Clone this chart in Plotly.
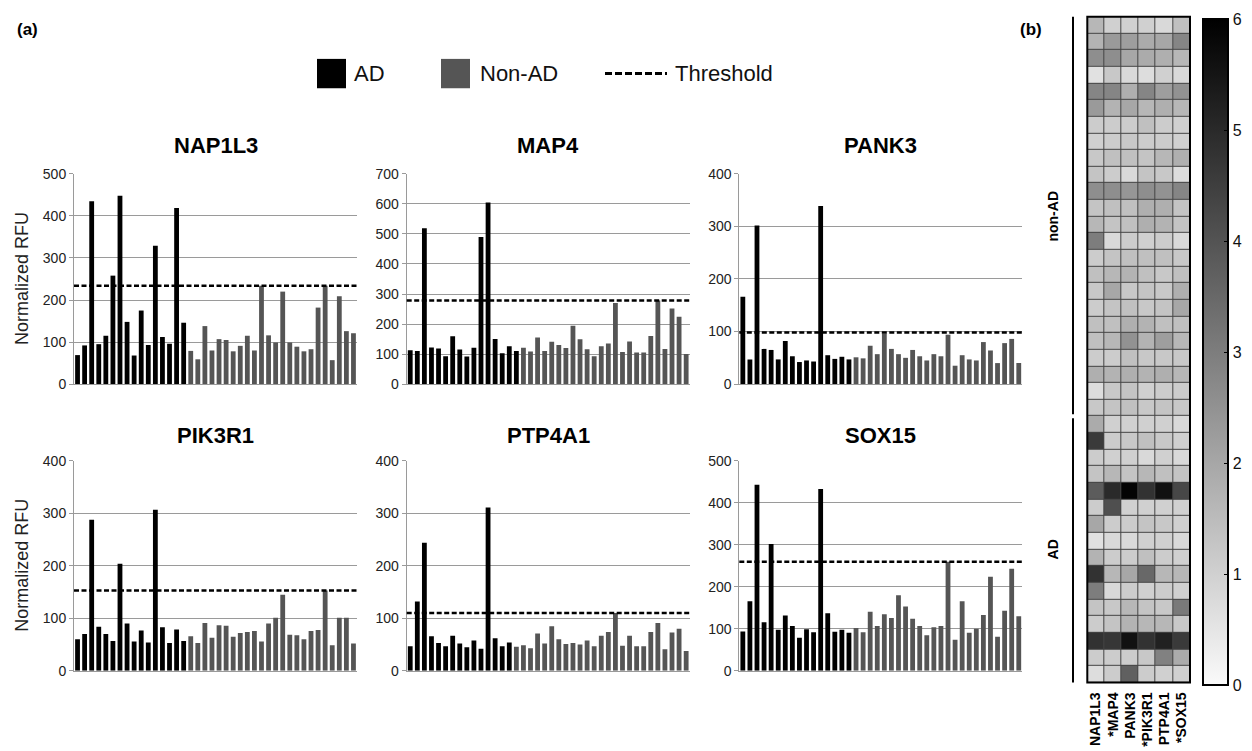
import plotly.graph_objects as go

W, H = 1252, 751
FONT = "Liberation Sans, Arial, Helvetica, sans-serif"

# ---------------- data ----------------
genes = ["NAP1L3", "MAP4", "PANK3", "PIK3R1", "PTP4A1", "SOX15"]

nap1l3 = [69, 92, 435, 95, 115, 258, 448, 148, 68, 175, 93, 329, 112, 96, 419, 146,
          79, 59, 138, 80, 107, 105, 78, 91, 115, 80, 234, 116, 99, 220, 99, 89, 78, 83,
          182, 234, 57, 209, 126, 121]
map4 = [113, 110, 519, 122, 119, 93, 159, 115, 92, 121, 490, 605, 150, 103, 126, 110,
        121, 109, 155, 110, 141, 130, 120, 194, 149, 116, 93, 126, 135, 270, 107, 142,
        105, 105, 160, 278, 117, 252, 224, 100]
pank3 = [166, 47, 302, 67, 65, 47, 82, 53, 42, 45, 43, 339, 55, 48, 52, 47,
         51, 49, 73, 57, 96, 67, 57, 50, 65, 53, 45, 57, 53, 94, 35, 55, 47, 45, 80, 64,
         40, 78, 86, 40]
pik3r1 = [60, 70, 288, 84, 70, 57, 204, 90, 56, 77, 54, 307, 83, 53, 79, 57,
          66, 53, 91, 63, 87, 86, 65, 72, 74, 76, 56, 90, 101, 145, 69, 68, 60, 76, 78,
          153, 49, 101, 101, 52]
ptp4a1 = [47, 132, 244, 66, 53, 47, 67, 52, 45, 58, 42, 311, 62, 47, 54,
          46, 49, 43, 71, 52, 85, 60, 51, 53, 50, 58, 47, 67, 74, 110, 48, 67, 47, 47, 74,
          91, 41, 73, 80, 38]
sox15 = [94, 166, 443, 116, 302, 98, 132, 107, 79, 99, 92, 433, 137, 93, 98, 91,
         102, 92, 141, 107, 135, 126, 180, 153, 124, 107, 85, 104, 107, 260, 74, 166, 91,
         100, 133, 224, 81, 143, 243, 130]
series = [nap1l3, map4, pank3, pik3r1, ptp4a1, sox15]
ad_counts = [16, 16, 16, 16, 15, 16]
thresholds = [234, 278, 98, 153, 110, 260]
y_max = [500, 700, 400, 400, 400, 500]

heat_genes = ["NAP1L3", "*MAP4", "PANK3", "*PIK3R1", "PTP4A1", "*SOX15"]
heat_nonad = [
    [1.6, 1.0, 1.0, 1.0, 0.8, 1.4],
    [1.7, 2.3, 2.2, 1.9, 2.0, 2.8],
    [2.6, 2.6, 2.0, 1.9, 1.8, 1.6],
    [0.6, 1.2, 0.8, 0.7, 1.0, 0.8],
    [2.8, 2.8, 1.8, 2.8, 2.2, 2.5],
    [2.3, 1.7, 2.0, 1.6, 1.8, 1.6],
    [1.1, 1.1, 1.1, 1.4, 1.1, 1.0],
    [1.0, 1.1, 1.2, 1.1, 1.1, 1.0],
    [1.2, 1.4, 1.4, 1.3, 1.6, 1.8],
    [1.3, 1.1, 0.8, 1.3, 1.2, 0.7],
    [2.6, 2.6, 2.4, 2.6, 2.5, 2.8],
    [1.3, 1.4, 1.4, 1.8, 1.8, 1.3],
    [1.6, 1.3, 1.4, 1.8, 1.7, 1.3],
    [3.0, 0.8, 1.1, 1.0, 1.1, 0.8],
    [1.1, 1.3, 1.4, 1.4, 1.4, 1.2],
    [1.4, 1.6, 1.7, 1.4, 1.2, 1.4],
    [1.2, 2.0, 1.2, 1.3, 1.2, 1.8],
    [1.1, 1.3, 1.4, 1.2, 1.3, 2.0],
    [1.4, 1.4, 1.8, 1.7, 1.4, 1.4],
    [1.4, 1.6, 2.5, 1.7, 2.2, 1.6],
    [1.1, 1.1, 1.4, 1.2, 1.2, 1.2],
    [1.8, 1.7, 1.8, 1.7, 1.8, 1.6],
    [0.7, 1.2, 1.3, 1.0, 1.1, 1.1],
    [1.2, 1.3, 1.4, 1.2, 1.3, 1.2],
]
heat_ad = [
    [1.9, 1.0, 1.0, 1.0, 1.0, 0.8],
    [4.6, 1.1, 1.2, 1.4, 1.2, 1.0],
    [1.1, 1.0, 1.0, 0.8, 1.0, 0.8],
    [1.3, 1.6, 1.3, 1.6, 1.4, 1.3],
    [3.8, 5.0, 5.9, 4.8, 5.6, 4.3],
    [1.1, 4.1, 1.0, 1.0, 1.0, 1.0],
    [2.0, 1.1, 1.1, 1.3, 1.2, 1.0],
    [0.6, 0.8, 0.8, 1.0, 1.0, 0.8],
    [1.7, 1.1, 1.1, 1.4, 1.1, 1.0],
    [4.8, 1.6, 2.0, 3.5, 1.6, 1.6],
    [3.0, 0.8, 1.1, 1.0, 1.1, 1.0],
    [1.3, 1.2, 1.6, 1.3, 1.2, 3.1],
    [1.1, 1.3, 1.7, 1.6, 1.6, 1.2],
    [4.8, 4.7, 5.6, 4.8, 5.2, 4.6],
    [1.1, 1.1, 1.1, 1.2, 2.9, 1.9],
    [0.7, 1.1, 3.7, 1.1, 1.0, 1.0],
]
colorbar_ticks = [0, 1, 2, 3, 4, 5, 6]

# ---------------- helpers ----------------
def px(x):
    return x / W


def py(y):
    return 1 - y / H


AD_COLOR = "#000000"
NON_COLOR = "#555555"
GRID = "#9a9a9a"

cols_x = [(74, 357), (406.7, 689.7), (739.3, 1022.3)]
rows_y = [(169.5, 384.3), (462.7, 677.3)]
title_y = [141, 437]

fig = go.Figure()
layout = dict(
    width=W, height=H,
    margin=dict(l=0, r=0, t=0, b=0),
    paper_bgcolor="white", plot_bgcolor="white",
    font=dict(family=FONT, color="#111"),
    showlegend=False, barmode="overlay",
)
shapes = []
annotations = []


def note(text, x, y, size, xanchor="center", yanchor="middle", angle=0, color="#000"):
    annotations.append(dict(text=text, x=px(x), y=py(y), xref="paper", yref="paper",
                            xanchor=xanchor, yanchor=yanchor, showarrow=False,
                            textangle=angle, font=dict(size=size, family=FONT, color=color)))


for i, g in enumerate(genes):
    r, c = divmod(i, 3)
    k = "" if i == 0 else str(i + 1)
    xa, ya = "x" + k, "y" + k
    vals = series[i]
    n = ad_counts[i]
    idx = list(range(len(vals)))
    fig.add_trace(go.Bar(x=idx[:n], y=vals[:n], marker=dict(color=AD_COLOR, line=dict(width=0)),
                         width=0.68, xaxis=xa, yaxis=ya, name="AD"))
    fig.add_trace(go.Bar(x=idx[n:], y=vals[n:], marker=dict(color=NON_COLOR, line=dict(width=0)),
                         width=0.68, xaxis=xa, yaxis=ya, name="Non-AD"))
    x0, x1 = cols_x[c]
    yt, yb = rows_y[r]
    layout["xaxis" + k] = dict(domain=[px(x0), px(x1)], anchor=ya, range=[-0.5, len(vals) - 0.5],
                               showticklabels=False, showgrid=False, zeroline=False,
                               showline=True, linecolor=GRID, linewidth=1, ticks="")
    layout["yaxis" + k] = dict(domain=[py(yb), py(yt)], anchor=xa, range=[0, y_max[i]],
                               tick0=0, dtick=100, showgrid=True, gridcolor=GRID, gridwidth=1,
                               showline=True, linecolor=GRID, linewidth=1, zeroline=False,
                               ticks="outside", ticklen=4, tickcolor=GRID,
                               tickfont=dict(size=14, color="#222", family=FONT))
    shapes.append(dict(type="line", xref=xa + " domain", yref=ya, x0=0, x1=1,
                       y0=thresholds[i], y1=thresholds[i],
                       line=dict(color="black", width=2.5, dash="5px,2.5px"), layer="above"))
    note("<b>%s</b>" % g, (x0 + x1) / 2, title_y[r], 22)

for yc in [277, 570]:
    note("Normalized RFU", 22, yc, 18, angle=-90, color="#222")

# ---------------- heatmap ----------------
hx0, hx1 = 1087.3, 1190.0
hy0, hy1 = 9.0, 689.3
z = heat_nonad + heat_ad
fig.add_trace(go.Heatmap(
    z=z, x=list(range(len(heat_genes))), y=list(range(len(z))),
    colorscale=[[0, "rgb(250,250,250)"], [1, "rgb(0,0,0)"]], zmin=0, zmax=6,
    xgap=1, ygap=1, xaxis="x7", yaxis="y7",
    colorbar=dict(x=px(1203), xanchor="left", thickness=25, thicknessmode="pixels",
                  len=(692.7 - 11.7) / H, lenmode="fraction", y=py(11.7), yanchor="top",
                  xpad=0, ypad=0, outlinewidth=2, outlinecolor="black",
                  tickvals=colorbar_ticks, ticks="inside", ticklen=5, tickcolor="black",
                  tickfont=dict(size=16, family=FONT, color="#111")),
))
layout["xaxis7"] = dict(domain=[px(hx0), px(hx1)], anchor="y7", range=[-0.5, 5.5],
                        tickvals=list(range(len(heat_genes))),
                        ticktext=["<b>%s</b>" % g for g in heat_genes],
                        tickangle=-90, ticks="", showgrid=False, zeroline=False, showline=False,
                        ticklabelstandoff=6,
                        tickfont=dict(size=14, family=FONT, color="#000"))
layout["yaxis7"] = dict(domain=[py(hy1), py(hy0)], anchor="x7", range=[len(z) - 0.5, -0.5],
                        showticklabels=False, showgrid=False, zeroline=False, showline=False,
                        ticks="")
shapes.append(dict(type="rect", xref="x7 domain", yref="y7 domain", x0=0, x1=1, y0=0, y1=1,
                   fillcolor="#444444", line=dict(width=0), layer="below"))
shapes.append(dict(type="rect", xref="x7 domain", yref="y7 domain", x0=0, x1=1, y0=0, y1=1,
                   fillcolor="rgba(0,0,0,0)", line=dict(color="black", width=2), layer="above"))

# group brackets and labels
n_non = len(heat_nonad)
row_h = (hy1 - hy0) / len(z)
split = hy0 + n_non * row_h
shapes.append(dict(type="line", xref="paper", yref="paper", x0=px(1073), x1=px(1073),
                   y0=py(hy0), y1=py(split - 2), line=dict(color="black", width=2)))
shapes.append(dict(type="line", xref="paper", yref="paper", x0=px(1073), x1=px(1073),
                   y0=py(split + 2), y1=py(hy1), line=dict(color="black", width=2)))
note("<b>non-AD</b>", 1053, (hy0 + split) / 2, 14, angle=-90)
note("<b>AD</b>", 1053, (split + hy1) / 2, 14, angle=-90)

# ---------------- legend (drawn) ----------------
shapes.append(dict(type="rect", xref="paper", yref="paper", x0=px(317), x1=px(346),
                   y0=py(82), y1=py(52), fillcolor=AD_COLOR, line=dict(width=0)))
shapes.append(dict(type="rect", xref="paper", yref="paper", x0=px(441), x1=px(470),
                   y0=py(82), y1=py(52), fillcolor=NON_COLOR, line=dict(width=0)))
shapes.append(dict(type="line", xref="paper", yref="paper", x0=px(605), x1=px(667),
                   y0=py(67), y1=py(67), line=dict(color="black", width=3, dash="7px,3px")))
for txt, xx in [("AD", 352), ("Non-AD", 478), ("Threshold", 673)]:
    note(txt, xx, 67, 22, xanchor="left", color="#111")

note("<b>(a)</b>", 15, 22, 17, xanchor="left")
note("<b>(b)</b>", 1018, 22, 17, xanchor="left")

layout["shapes"] = shapes
layout["annotations"] = annotations
fig.update_layout(**layout)

fig.write_html("out.html", config={"displayModeBar": False, "responsive": False},
               post_script="document.body.style.margin='0';document.body.style.overflow='hidden';")
